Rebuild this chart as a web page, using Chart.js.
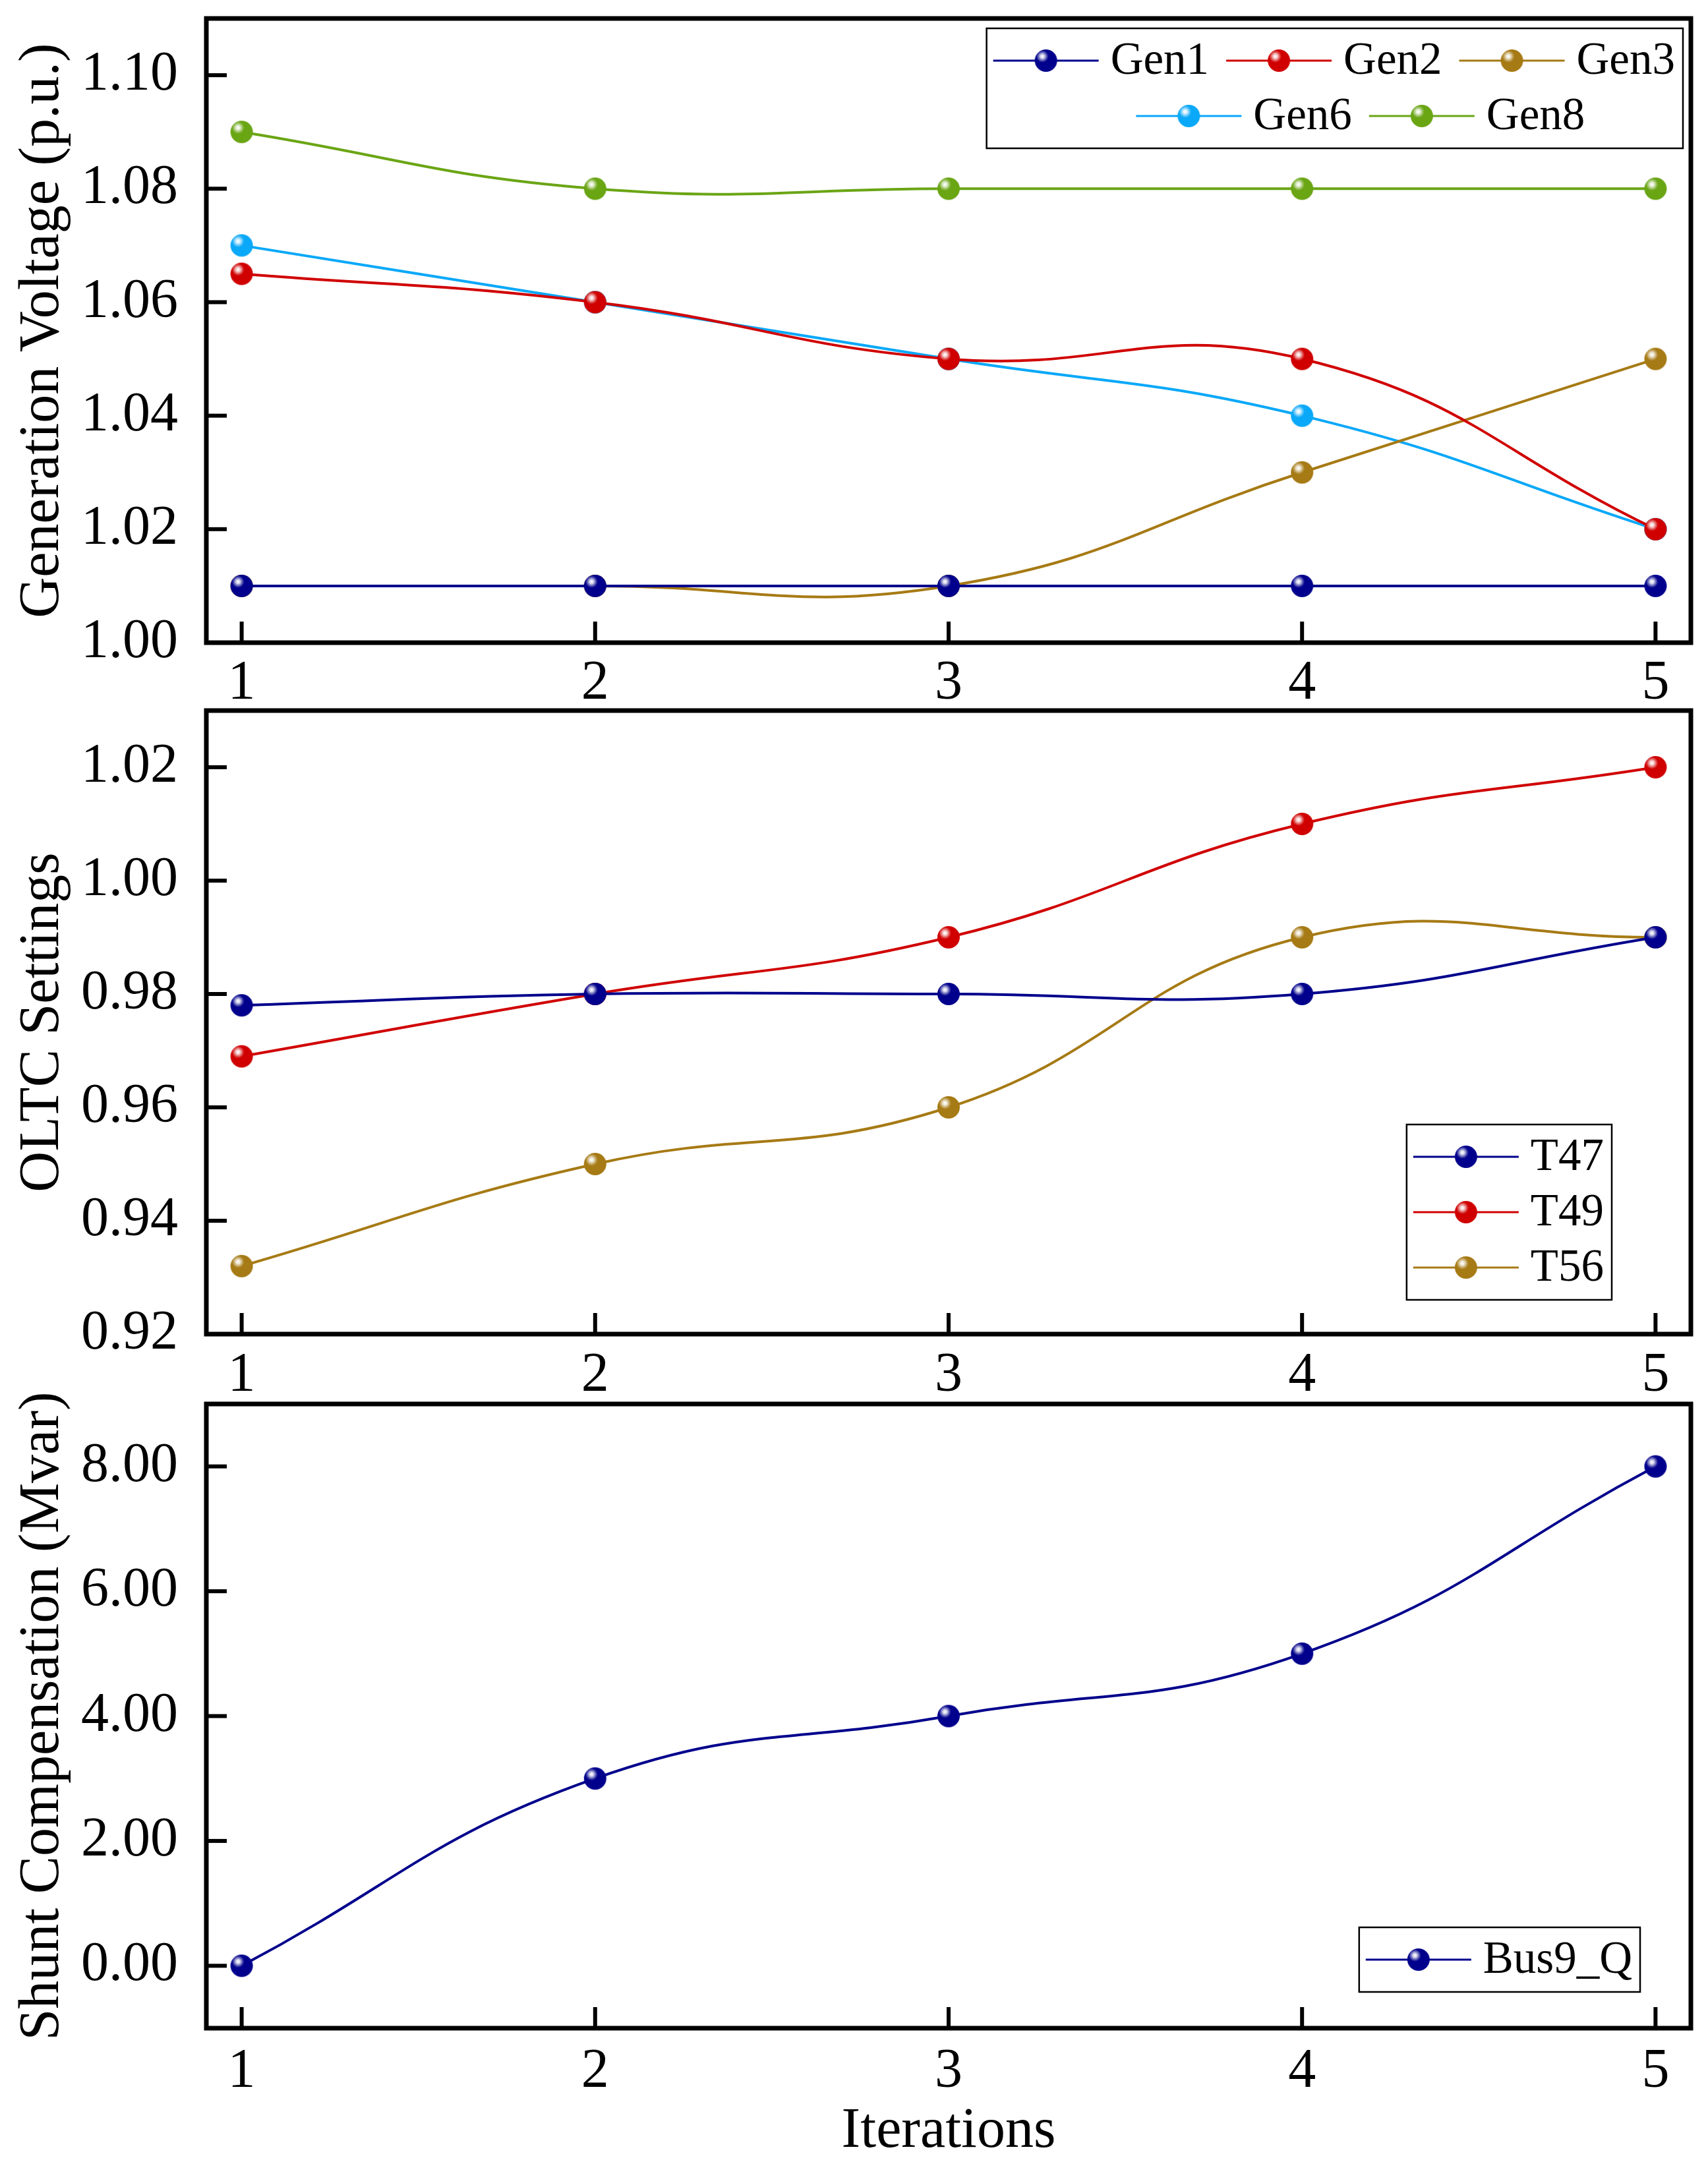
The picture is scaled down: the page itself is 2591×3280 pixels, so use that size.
<!DOCTYPE html>
<html>
<head>
<meta charset="utf-8">
<script src="https://cdn.jsdelivr.net/npm/chart.js@4.4.1/dist/chart.umd.min.js"></script>
<style>
  body { margin: 0; background: #fff; width: 2591px; height: 3280px; position: relative; overflow: hidden; }
  canvas { position: absolute; left: 0; }
</style>
</head>
<body>
<canvas id="voltageChart" width="2591" height="1075" style="top:0px"></canvas>
<canvas id="oltcChart" width="2591" height="1075" style="top:1050px"></canvas>
<canvas id="shuntChart" width="2591" height="1180" style="top:2100px"></canvas>
<script>
const iterations = [1, 2, 3, 4, 5];

const gen1 = [1.01, 1.01, 1.01, 1.01, 1.01];
const gen2 = [1.065, 1.06, 1.05, 1.05, 1.02];
const gen3 = [1.01, 1.01, 1.01, 1.03, 1.05];
const gen6 = [1.07, 1.06, 1.05, 1.04, 1.02];
const gen8 = [1.09, 1.08, 1.08, 1.08, 1.08];

const t47 = [0.978, 0.98, 0.98, 0.98, 0.99];
const t49 = [0.969, 0.98, 0.99, 1.01, 1.02];
const t56 = [0.932, 0.95, 0.96, 0.99, 0.99];

const bus9Q = [0, 3, 4, 5, 8];

const voltageTicks = [1.00, 1.02, 1.04, 1.06, 1.08, 1.10];
const oltcTicks = [0.92, 0.94, 0.96, 0.98, 1.00, 1.02];
const shuntTicks = [0, 2, 4, 6, 8];

const NAVY = '#00008c';
const RED = '#d00000';
const GOLD = '#a67a14';
const SKY = '#0aa8f8';
const GREEN = '#6aa514';

const SERIF = '"Liberation Serif", "Times New Roman", serif';
const MARK_R = 17;

// shaded ball marker like the original plot
function sphere(color) {
  const c = document.createElement('canvas');
  const s = 2 * MARK_R + 2;
  c.width = c.height = s;
  const g = c.getContext('2d');
  const cx = s / 2, cy = s / 2;
  g.fillStyle = color;
  g.beginPath(); g.arc(cx, cy, MARK_R, 0, Math.PI * 2); g.fill();
  const hx = cx - MARK_R * 0.32, hy = cy - MARK_R * 0.38;
  const grad = g.createRadialGradient(hx, hy, 0, hx, hy, MARK_R * 0.55);
  grad.addColorStop(0, 'rgba(255,255,255,1)');
  grad.addColorStop(0.3, 'rgba(255,255,255,0.85)');
  grad.addColorStop(0.65, 'rgba(255,255,255,0.4)');
  grad.addColorStop(1, 'rgba(255,255,255,0)');
  g.fillStyle = grad;
  g.beginPath(); g.arc(cx, cy, MARK_R, 0, Math.PI * 2); g.fill();
  return c;
}

function series(label, values, color) {
  const ball = sphere(color);
  return {
    label: label,
    data: iterations.map((x, i) => ({ x: x, y: values[i] })),
    borderColor: color,
    backgroundColor: color,
    borderWidth: 4,
    tension: 0.45,
    pointStyle: ball,
    pointRadius: MARK_R,
    ball: ball
  };
}

// frame, inward tick marks and the boxed legend
const framePlugin = {
  id: 'frame',
  afterDraw(chart, args, opts) {
    const { ctx, chartArea: a, scales } = chart;
    ctx.save();
    ctx.strokeStyle = '#000';
    ctx.lineWidth = 6;
    scales.y.ticks.forEach(t => {
      const y = scales.y.getPixelForValue(t.value);
      ctx.beginPath(); ctx.moveTo(a.left, y); ctx.lineTo(a.left + 31, y); ctx.stroke();
    });
    scales.x.ticks.forEach(t => {
      const x = scales.x.getPixelForValue(t.value);
      ctx.beginPath(); ctx.moveTo(x, a.bottom); ctx.lineTo(x, a.bottom - 32); ctx.stroke();
    });
    ctx.lineWidth = 7;
    ctx.strokeRect(a.left, a.top, a.right - a.left, a.bottom - a.top);

    // legend
    const ds = chart.data.datasets;
    ctx.font = '69px ' + SERIF;
    const itemW = i => 160 + 18 + ctx.measureText(ds[i].label).width;
    const rowW = row => row.reduce((s, i) => s + itemW(i), 0) + 26 * (row.length - 1);
    const contentW = Math.max(...opts.rows.map(rowW));
    const boxW = contentW + 10 + 12;
    const boxH = (opts.rows.length - 1) * 84 + 98;
    const right = a.right - opts.right;
    const left = right - boxW;
    const top = opts.top != null ? a.top + opts.top : a.bottom - opts.bottom - boxH;
    ctx.lineWidth = 2.5;
    ctx.strokeRect(left, top, boxW, boxH);
    ctx.textBaseline = 'middle';
    ctx.textAlign = 'left';
    opts.rows.forEach((row, r) => {
      const cy = top + 49 + r * 84;
      let x = r === 0 ? left + 10 : left + 10 + (contentW - rowW(row)) / 2 + (opts.shift || 0);
      row.forEach(i => {
        const d = ds[i];
        ctx.strokeStyle = d.borderColor;
        ctx.lineWidth = 3;
        ctx.beginPath(); ctx.moveTo(x, cy); ctx.lineTo(x + 160, cy); ctx.stroke();
        ctx.drawImage(d.ball, x + 80 - d.ball.width / 2, cy - d.ball.height / 2);
        ctx.fillStyle = '#000';
        ctx.fillText(d.label, x + 178, cy + 2);
        x += itemW(i) + 26;
      });
    });
    ctx.restore();
  }
};

function makePanel(id, opts) {
  new Chart(document.getElementById(id), {
    type: 'line',
    data: { datasets: opts.datasets },
    options: {
      responsive: false,
      devicePixelRatio: 1,
      animation: false,
      layout: { padding: { top: opts.padTop, right: 26, left: 0, bottom: 0 } },
      plugins: {
        legend: { display: false },
        tooltip: { enabled: false },
        frame: opts.legend
      },
      scales: {
        x: {
          type: 'linear',
          min: 0.9,
          max: 5.1,
          grid: { display: false },
          border: { display: false },
          afterBuildTicks: s => { s.ticks = iterations.map(v => ({ value: v })); },
          afterFit: s => { s.height = opts.xHeight; s.paddingLeft = 0; s.paddingRight = 0; },
          ticks: {
            padding: opts.xPad,
            color: '#000',
            font: { family: SERIF, size: 84 },
            callback: v => String(v)
          },
          title: {
            display: !!opts.xTitle,
            text: opts.xTitle || '',
            color: '#000',
            font: { family: SERIF, size: 86, lineHeight: 1.05 },
            padding: { top: 0, bottom: 0 }
          }
        },
        y: {
          min: opts.yMin,
          max: opts.yMax,
          grid: { display: false },
          border: { display: false },
          afterBuildTicks: s => { s.ticks = opts.yTicks.map(v => ({ value: v })); },
          afterFit: s => { s.width = 313; s.paddingTop = 0; s.paddingBottom = 0; },
          ticks: {
            padding: 35,
            color: '#000',
            font: { family: SERIF, size: 84 },
            callback: v => Number(v).toFixed(2)
          },
          title: {
            display: true,
            text: opts.yTitle,
            color: '#000',
            font: { family: SERIF, size: 86 },
            padding: { top: 14, bottom: 0 }
          }
        }
      }
    },
    plugins: [framePlugin]
  });
}

makePanel('voltageChart', {
  datasets: [
    series('Gen1', gen1, NAVY),
    series('Gen2', gen2, RED),
    series('Gen3', gen3, GOLD),
    series('Gen6', gen6, SKY),
    series('Gen8', gen8, GREEN)
  ],
  padTop: 28,
  xHeight: 100,
  xPad: 5,
  yMin: 1.00,
  yMax: 1.11,
  yTicks: voltageTicks,
  yTitle: 'Generation Voltage (p.u.)',
  legend: { rows: [[0, 1, 2], [3, 4]], right: 12, top: 15, shift: 40 }
});

makePanel('oltcChart', {
  datasets: [
    series('T47', t47, NAVY),
    series('T49', t49, RED),
    series('T56', t56, GOLD)
  ],
  padTop: 28,
  xHeight: 101,
  xPad: 6,
  yMin: 0.92,
  yMax: 1.03,
  yTicks: oltcTicks,
  yTitle: 'OLTC Settings',
  legend: { rows: [[0], [1], [2]], right: 120, bottom: 52 }
});

makePanel('shuntChart', {
  datasets: [
    series('Bus9_Q', bus9Q, NAVY)
  ],
  padTop: 30,
  xHeight: 203,
  xPad: 9,
  yMin: -1,
  yMax: 9,
  yTicks: shuntTicks,
  yTitle: 'Shunt Compensation (Mvar)',
  xTitle: 'Iterations',
  legend: { rows: [[0]], right: 77, bottom: 55 }
});
</script>
</body>
</html>
